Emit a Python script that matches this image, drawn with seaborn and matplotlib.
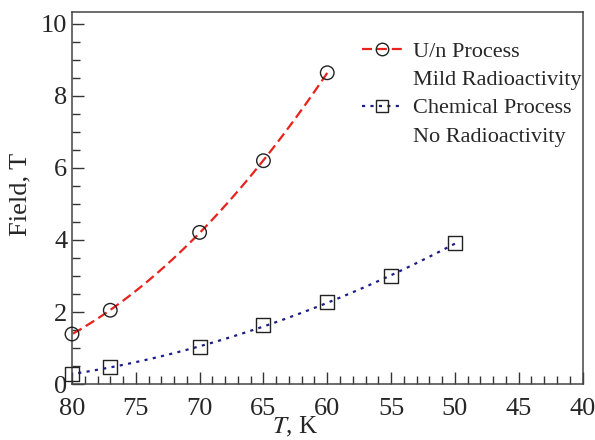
import matplotlib
matplotlib.use('Agg')
import matplotlib.pyplot as plt
import seaborn as sns
import pandas as pd
from matplotlib.lines import Line2D
from matplotlib.ticker import MultipleLocator

# Dados
temp_un = [80, 77, 70, 65, 60]
field_un = [1.39, 2.05, 4.21, 6.20, 8.64]

temp_chem = [80, 77, 70, 65, 60, 55, 50]
field_chem = [0.28, 0.47, 1.02, 1.63, 2.27, 2.99, 3.91]

label_un = ['U/n Process', 'Mild Radioactivity']
label_chem = ['Chemical Process', 'No Radioactivity']

red = '#e8221c'
navy = '#1c1c8a'

sns.set_theme(style='white')
plt.rcParams['font.family'] = ['Liberation Serif', 'DejaVu Serif']
plt.rcParams['mathtext.fontset'] = 'stix'

df_un = pd.DataFrame({'T': temp_un, 'B': field_un})
df_chem = pd.DataFrame({'T': temp_chem, 'B': field_chem})

fig = plt.figure(figsize=(5.95, 4.4), dpi=100)
ax = fig.add_axes([0.121, 0.127, 0.858, 0.846])

# curvas ajustadas
sns.regplot(data=df_un, x='T', y='B', order=2, ci=None, scatter=False, truncate=True,
            ax=ax, line_kws=dict(color=red, lw=1.6, ls=(0, (4.5, 2.2))))
sns.regplot(data=df_chem, x='T', y='B', order=2, ci=None, scatter=False, truncate=True,
            ax=ax, line_kws=dict(color=navy, lw=1.6, ls=(0, (1.4, 2.4))))

# pontos
sns.scatterplot(data=df_un, x='T', y='B', marker='o', s=95, facecolor='none',
                edgecolor='#222222', linewidth=1.0, ax=ax, zorder=4, clip_on=False)
sns.scatterplot(data=df_chem, x='T', y='B', marker='s', s=100, facecolor='none',
                edgecolor='#222222', linewidth=1.0, ax=ax, zorder=4, clip_on=False)

ax.set_xlim(80, 40)
ax.set_ylim(0, 10.33)
ax.xaxis.set_major_locator(MultipleLocator(5))
ax.xaxis.set_minor_locator(MultipleLocator(1))
ax.yaxis.set_major_locator(MultipleLocator(2))
ax.yaxis.set_minor_locator(MultipleLocator(0.5))
ax.tick_params(which='major', direction='in', length=8.5, width=1, color='#333333',
               labelsize=19, bottom=True, left=True, top=False, right=False)
ax.tick_params(which='minor', direction='in', length=5.5, width=1, color='#333333',
               bottom=True, left=True, top=False, right=False)
ax.tick_params(axis='x', which='major', pad=10)
ax.tick_params(axis='y', which='major', pad=3.5)
for s in ax.spines.values():
    s.set_color('#444444')
    s.set_linewidth(1.1)

ax.set_xlabel('$T$, K', fontsize=18)
ax.set_ylabel('Field, T', fontsize=19)
ax.xaxis.set_label_coords((295 - 72) / 510, -0.082)
ax.yaxis.set_label_coords(-0.08, 0.51)

# legenda
h_un = Line2D([], [], color=red, lw=1.6, ls=(0, (4.5, 2.2)), marker='o', ms=9,
              mfc='none', mec='#222222', mew=1.0)
h_chem = Line2D([], [], color=navy, lw=1.6, ls=(0, (1.4, 2.4)), marker='s', ms=9,
                mfc='none', mec='#222222', mew=1.0)
blank = Line2D([], [], color='none')
ax.legend([h_un, blank, h_chem, blank],
          [label_un[0], label_un[1], label_chem[0], label_chem[1]],
          loc='upper left', bbox_to_anchor=(0.551, 0.945), borderaxespad=0,
          frameon=False, fontsize=16, numpoints=1, handlelength=1.8,
          handletextpad=0.5, labelspacing=0.35)

plt.savefig('out.png', dpi=100)
plt.close()
